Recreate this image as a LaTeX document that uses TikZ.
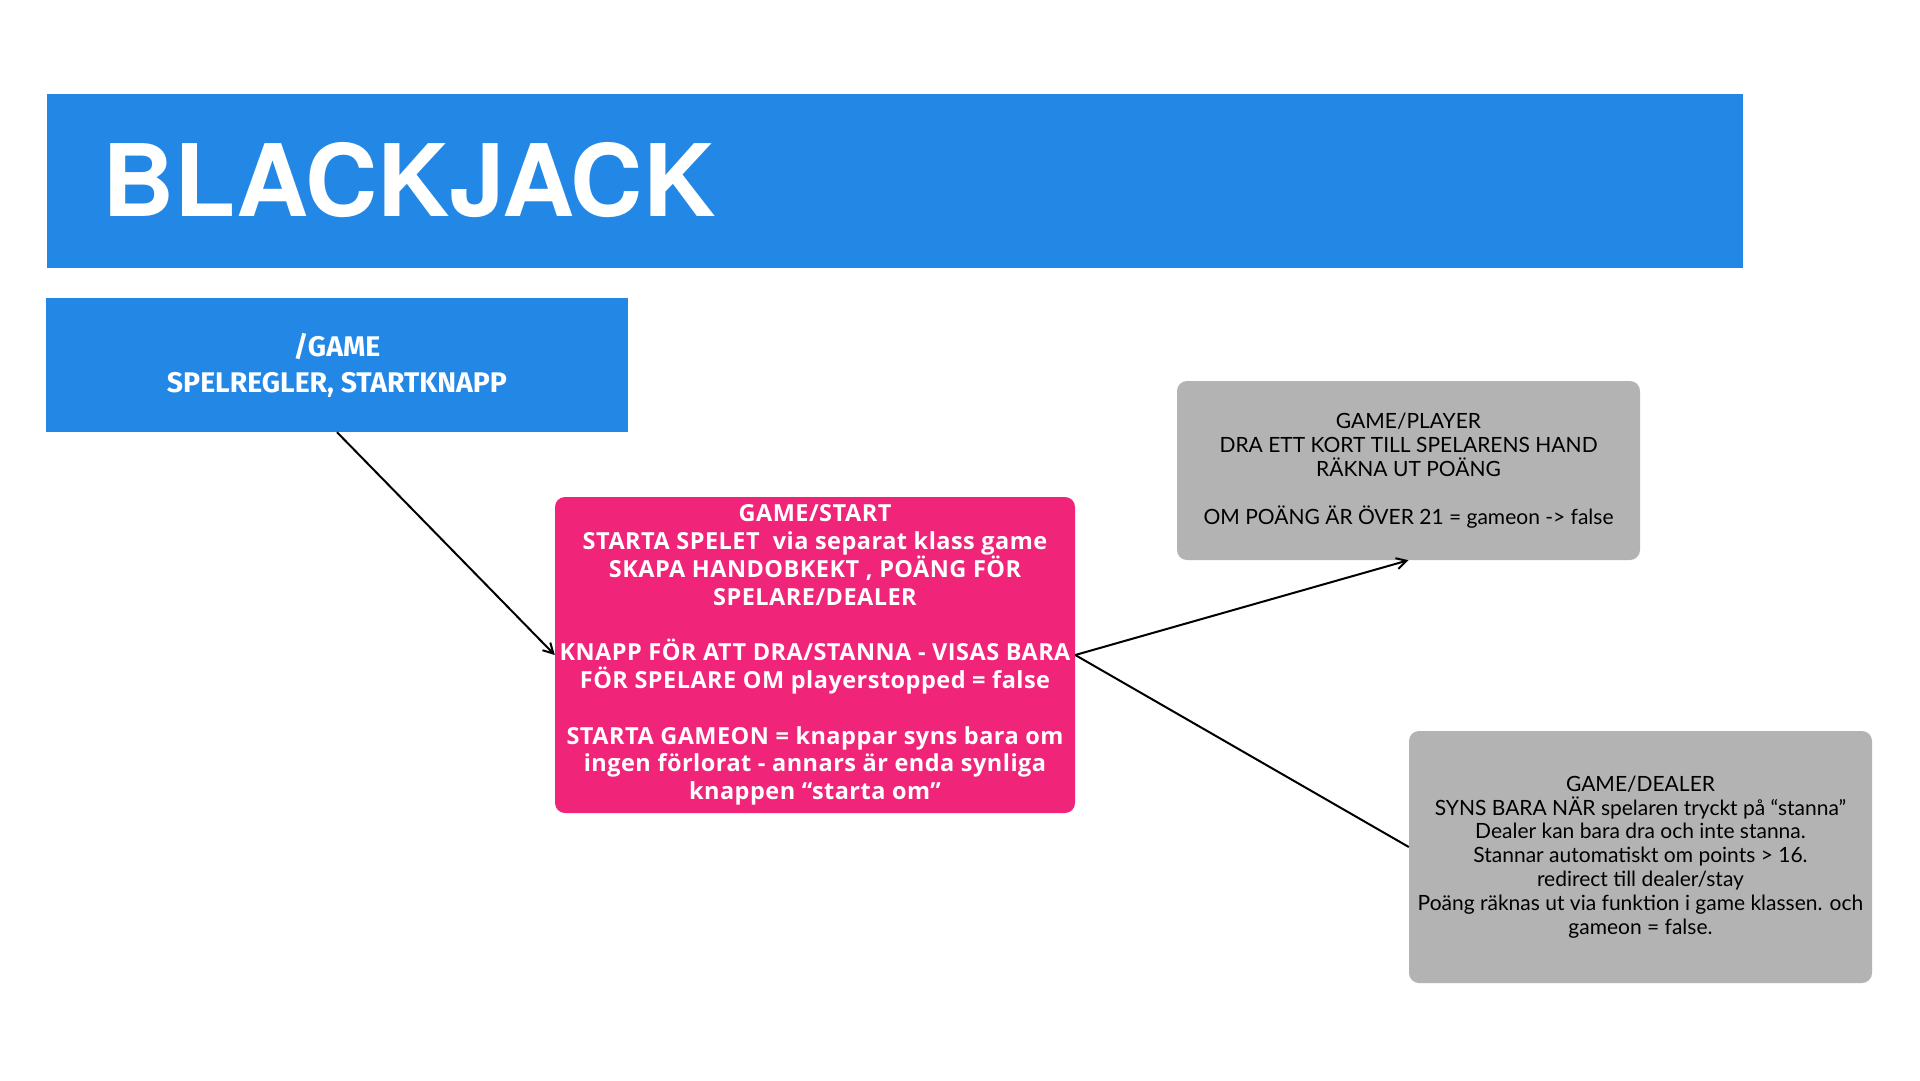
\documentclass[tikz,border=0pt]{standalone}
\usepackage{fontspec}
\setmainfont{Lato}
\newfontfamily\titelfont{TeX Gyre Heros}
\newfontfamily\smalfont{Fira Sans}
\newfontfamily\startfont[LetterSpace=2]{Open Sans}
\usetikzlibrary{arrows.meta,positioning}
\definecolor{bla}{RGB}{35,136,229}
\definecolor{rosa}{RGB}{240,36,120}
\definecolor{gra}{RGB}{179,179,179}
\tikzset{
  rubrik/.style={rectangle, fill=bla, minimum width=1696pt, minimum height=174pt, inner sep=0pt},
  titel/.style={inner sep=0pt, text=white, font=\titelfont\bfseries\fontsize{100}{100}\selectfont},
  sida/.style={rectangle, fill=bla, minimum width=582pt, minimum height=134pt,
               align=center, text=white, inner sep=0pt,
               font=\smalfont\bfseries\fontsize{28.4}{36}\selectfont},
  start/.style={rectangle, fill=rosa, rounded corners=10pt, minimum width=520pt, minimum height=316pt,
                align=center, text=white, inner sep=0pt,
                font=\startfont\bfseries\fontsize{23.5}{27.8}\selectfont},
  info/.style={rectangle, fill=gra, rounded corners=10pt, minimum width=463pt,
               align=center, text=black, inner sep=0pt,
               font=\fontsize{21}{23.9}\selectfont},
  pil/.style={-{Straight Barb[length=10pt,width=11pt]}, line width=2pt},
  linje/.style={line width=2pt}
}
\begin{document}
\begin{tikzpicture}[x=1pt, y=-1pt]
  \useasboundingbox[fill=white] (0,0) rectangle (1920,1080);
  % Rubrik
  \node[rubrik] (r0) at (894.5,181) {};
  \node[titel, anchor=base west] (t0) at (102,216.7) {BLACKJACK};

  % Sidor
  \node[sida] (g1) at (337,365) {/GAME\\SPELREGLER, STARTKNAPP};
  \node[start] (s1) at (815,655) {GAME/START\\STARTA SPELET\ \ via separat klass game\\SKAPA HANDOBKEKT , POÄNG FÖR\\SPELARE/DEALER\\[27.8pt]KNAPP FÖR ATT DRA/STANNA - VISAS BARA\\FÖR SPELARE OM playerstopped = false\\[27.8pt]STARTA GAMEON = knappar syns bara om\\ingen förlorat - annars är enda synliga\\knappen “starta om”};
  \node[info, minimum height=179pt] (p1) at (1408.5,470.5) {GAME/PLAYER\\DRA ETT KORT TILL SPELARENS HAND\\RÄKNA UT POÄNG\\[23.9pt]OM POÄNG ÄR ÖVER 21 = gameon -> false};
  \node[info, minimum height=252pt] (d1) at (1640.5,857) {GAME/DEALER\\SYNS BARA NÄR spelaren tryckt på “stanna”\\Dealer kan bara dra och inte stanna.\\Stannar automatiskt om points > 16.\\redirect till dealer/stay\\Poäng räknas ut via funktion i game klassen. och\\gameon = false.};

  \draw[pil] (g1.south) -- (s1.west);
  \draw[pil] (s1.east) -- (p1.south);
  \draw[linje] (s1.east) -- ([yshift=10pt]d1.west);
\end{tikzpicture}
\end{document}
